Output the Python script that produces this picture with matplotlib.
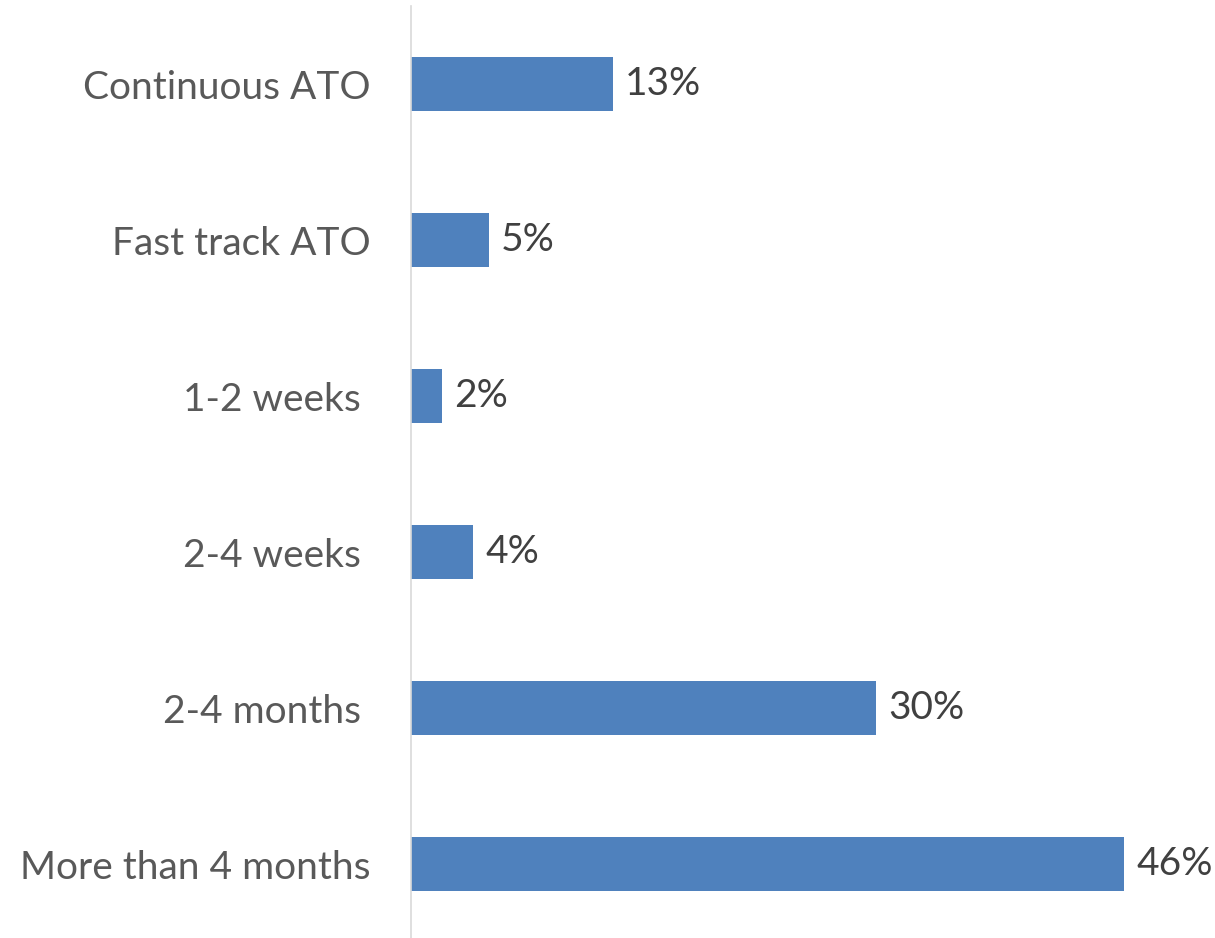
import matplotlib.pyplot as plt

categories = ["Continuous ATO", "Fast track ATO", "1-2 weeks ", "2-4 weeks ", "2-4 months ", "More than 4 months"]
values = [13, 5, 2, 4, 30, 46]
value_labels = ["13%", "5%", "2%", "4%", "30%", "46%"]

plt.rcParams['font.family'] = ['Lato', 'DejaVu Sans']

W, H = 1215, 938
fig = plt.figure(figsize=(W / 100, H / 100), dpi=100)
# axes placed in pixel terms: left edge at the vertical axis line
left, right, top, bottom = 411, 411 + 50 * 15.5, 6, 942
ax = fig.add_axes([left / W, 1 - bottom / H, (right - left) / W, (bottom - top) / H])

ypos = list(range(len(categories)))
ax.barh(ypos, values, height=0.35, color="#4F81BD")
ax.set_ylim(len(categories) - 0.5, -0.5)
ax.set_xlim(0, 50)

for y, v, lab in zip(ypos, values, value_labels):
    ax.annotate(lab, (v, y), xytext=(9, 0), textcoords="offset points",
                va="center", ha="left", fontsize=28, color="#404040")

ax.set_yticks(ypos)
ax.set_yticklabels(categories, fontsize=28, color="#595959")
ax.tick_params(axis="y", length=0, pad=29)
ax.set_xticks([])
for s in ["top", "right", "bottom"]:
    ax.spines[s].set_visible(False)
ax.spines["left"].set_color("#D9D9D9")
ax.spines["left"].set_linewidth(1.2)

fig.savefig("out.png", dpi=100)
